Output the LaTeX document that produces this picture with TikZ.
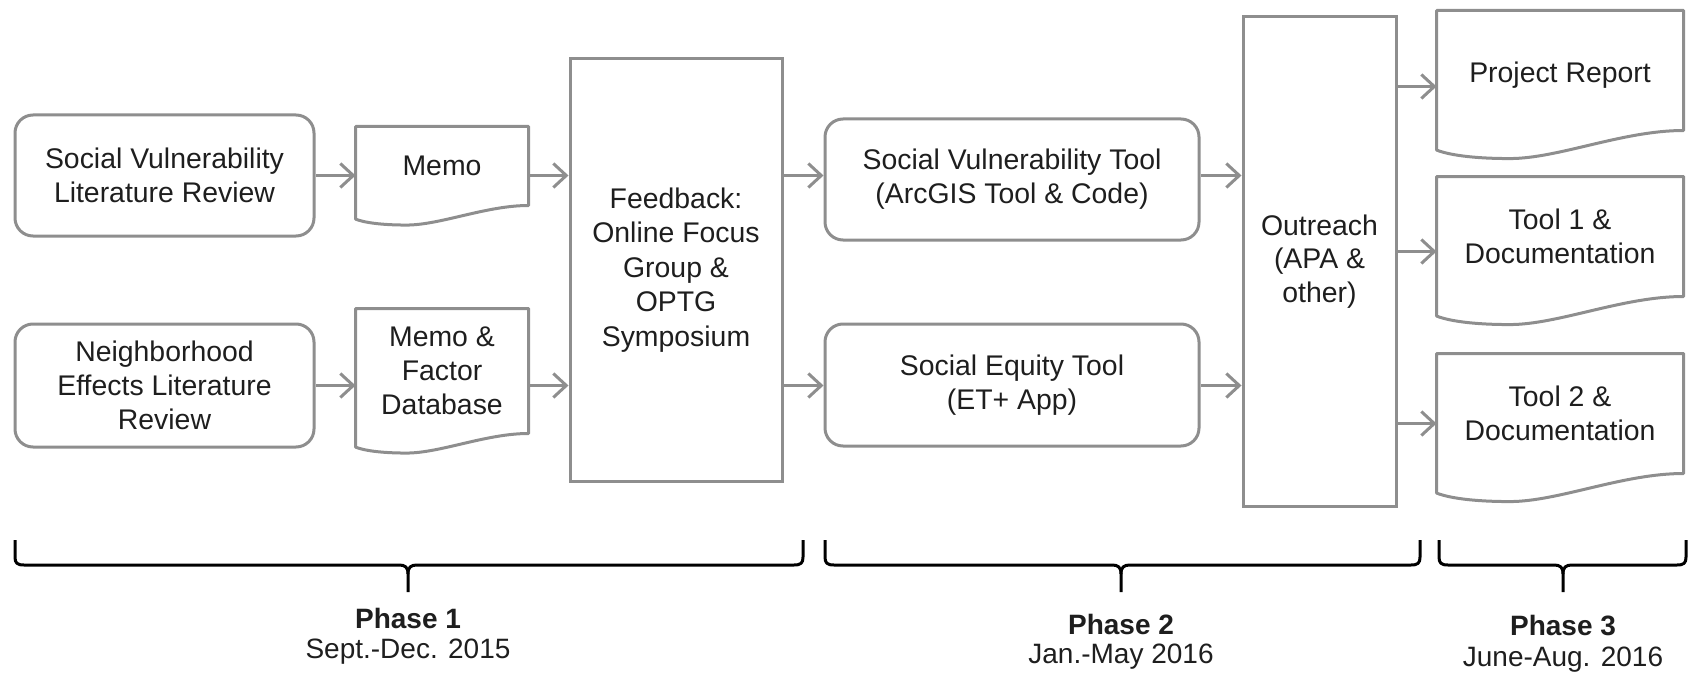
\documentclass[tikz,border=0pt]{standalone}
\usepackage{fontspec}
\setmainfont{Liberation Sans}
\usetikzlibrary{arrows.meta,calc}

\definecolor{linegray}{RGB}{142,142,142}
\definecolor{txt}{RGB}{30,30,30}

% Outline of a document symbol: flat top, wavy bottom edge.
% #1 = node name, #2 = node width in picture units
\newcommand\docoutline[2]{%
  \draw[docline] (#1.north west) -- (#1.north east) -- (#1.south east)
    .. controls ($(#1.south east)+(-0.25*#2,0)$) and ($(#1.south west)+(0.5*#2,0.115*#2)$)
    .. ($(#1.south west)+(0.3*#2,0.115*#2)$)
    .. controls ($(#1.south west)+(0.15*#2,0.115*#2)$) and ($(#1.south west)+(0.05*#2,0.1*#2)$)
    .. ($(#1.south west)+(0,0.08*#2)$) -- cycle;}

% Curly bracket under a phase: #1 left x, #2 right x, #3 tip x
\newcommand\phasebrace[3]{%
  \draw[brace] (#1,540) -- (#1,557) .. controls (#1,563) and (#1+2,565) .. (#1+9,565)
    -- (#3-9,565) .. controls (#3-3,565) and (#3,567) .. (#3,574) -- (#3,592);
  \draw[brace] (#2,540) -- (#2,557) .. controls (#2,563) and (#2-2,565) .. (#2-9,565)
    -- (#3+9,565) .. controls (#3+3,565) and (#3,567) .. (#3,574);}

\begin{document}
\begin{tikzpicture}[x=0.5pt,y=-0.5pt,
  every node/.style={font=\fontsize{14.2}{16.9}\selectfont, text=txt, align=center},
  roundbox/.style={draw=linegray, line width=1.5pt, rounded corners=9pt, inner sep=0pt},
  plainbox/.style={draw=linegray, line width=1.5pt, inner sep=0pt},
  docbox/.style={inner sep=0pt, outer sep=0.75pt},
  docline/.style={draw=linegray, line width=1.5pt, line join=round},
  flow/.style={draw=linegray, line width=1.5pt, -{Straight Barb[length=6.5pt,width=12pt]}},
  brace/.style={draw=black, line width=1.5pt, line join=round},
  phase/.style={font=\fontsize{14}{16}\selectfont\bfseries},
  period/.style={font=\fontsize{14}{16}\selectfont}]

\useasboundingbox (0,0) rectangle (1696,674);

% ---- Phase 1 ----
\node[roundbox, minimum width=149.5pt, minimum height=60.5pt] (svlr) at (164.5,175.5)
  {Social Vulnerability\\Literature Review};
\node[roundbox, minimum width=149.5pt, minimum height=61.5pt] (nelr) at (164.5,385.5)
  {Neighborhood\\Effects Literature\\Review};

\node[docbox, minimum width=85pt, minimum height=38pt] (memo) at (442,166) {Memo};
\docoutline{memo}{170}
\node[docbox, minimum width=85pt, minimum height=61pt] (memodb) at (442,371)
  {Memo \&\\Factor\\Database};
\docoutline{memodb}{170}

\node[plainbox, minimum width=106pt, minimum height=211pt, font=\fontsize{14.2}{17.3}\selectfont] (fb) at (676,270)
  {Feedback:\\Online Focus\\Group \&\\OPTG\\Symposium};

% ---- Phase 2 ----
\node[roundbox, minimum width=187pt, minimum height=60.5pt] (svt) at (1012,179.5)
  {Social Vulnerability Tool\\(ArcGIS Tool \& Code)};
\node[roundbox, minimum width=187pt, minimum height=61pt] (set) at (1012,385)
  {Social Equity Tool\\(ET+ App)};

\node[plainbox, minimum width=76.5pt, minimum height=244.5pt] (out) at (1319.5,261.5)
  {Outreach\\(APA \&\\other)};

% ---- Phase 3 ----
\node[docbox, minimum width=122pt, minimum height=58.5pt] (pr) at (1560,70.5) {};
\node (prtext) at (1560,75) {Project Report};
\docoutline{pr}{244}
\node[docbox, minimum width=122pt, minimum height=58.5pt] (tool1) at (1560,236.5)
  {Tool 1 \&\\Documentation};
\docoutline{tool1}{244}
\node[docbox, minimum width=122pt, minimum height=58.5pt] (tool2) at (1560,413.5)
  {Tool 2 \&\\Documentation};
\docoutline{tool2}{244}

% ---- connectors ----
\draw[flow] (svlr.east) -- (svlr.east -| memo.west);
\draw[flow] (nelr.east) -- (nelr.east -| memodb.west);
\draw[flow] (memo.east |- svlr.east) -- (fb.west |- svlr.east);
\draw[flow] (memodb.east |- nelr.east) -- (fb.west |- nelr.east);
\draw[flow] (fb.east |- svlr.east) -- (svt.west |- svlr.east);
\draw[flow] (fb.east |- nelr.east) -- (set.west |- nelr.east);
\draw[flow] (svt.east |- svlr.east) -- (out.west |- svlr.east);
\draw[flow] (set.east |- nelr.east) -- (out.west |- nelr.east);

\coordinate (prin) at ($(pr.west)+(0,16)$);
\coordinate (t1in) at ($(tool1.west)+(0,15)$);
\coordinate (t2in) at ($(tool2.west)+(0,10)$);
\draw[flow] (out.east |- prin) -- (prin);
\draw[flow] (out.east |- t1in) -- (t1in);
\draw[flow] (out.east |- t2in) -- (t2in);

% ---- phase brackets and labels ----
\phasebrace{15}{803}{408}
\phasebrace{825}{1420}{1121}
\phasebrace{1439}{1686}{1563}

\node[phase] (p1) at (408,618) {Phase 1};
\node[period] (d1) at (408,652) {Sept.-Dec. 2015};
\node[phase] (p2) at (1121,624) {Phase 2};
\node[period] (d2) at (1121,657) {Jan.-May 2016};
\node[phase] (p3) at (1563,626) {Phase 3};
\node[period] (d3) at (1563,660) {June-Aug. 2016};

\end{tikzpicture}
\end{document}
